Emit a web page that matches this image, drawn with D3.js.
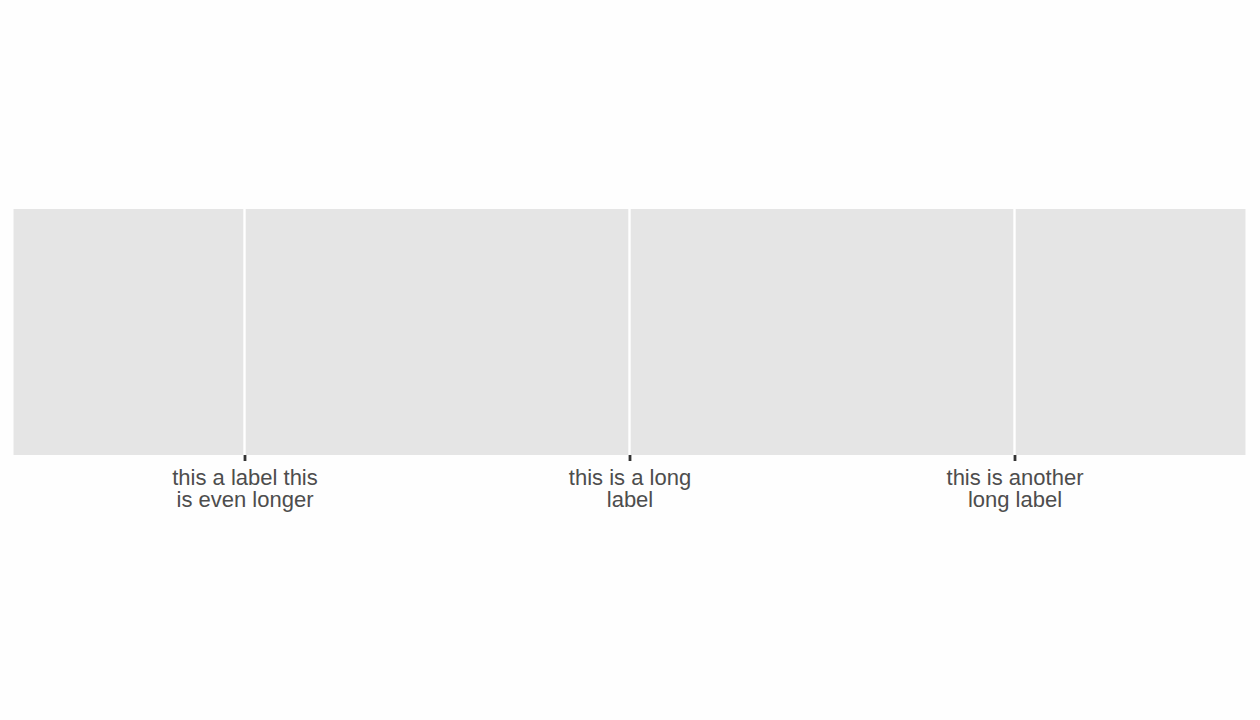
<!DOCTYPE html>
<html><head><meta charset="utf-8">
<script src="https://cdn.jsdelivr.net/npm/d3@7"></script>
<style>html,body{margin:0;padding:0;background:#fff;}svg{display:block;}</style>
</head><body>
<script>
const categories = ["this a label this\nis even longer", "this is a long\nlabel", "this is another\nlong label"];

const W = 1260, H = 720;
const panel = {left: 13.5, right: 1245.5, top: 209, bottom: 455};

const svg = d3.select("body").append("svg").attr("width", W).attr("height", H);
svg.append("rect").attr("width", W).attr("height", H).attr("fill", "#fefefe");

const x = d3.scalePoint().domain(categories).range([panel.left, panel.right]).padding(0.6);

svg.append("rect")
  .attr("x", panel.left).attr("y", panel.top)
  .attr("width", panel.right - panel.left).attr("height", panel.bottom - panel.top)
  .attr("fill", "#e5e5e5");

svg.append("g").selectAll("line").data(categories).join("line")
  .attr("x1", d => x(d)).attr("x2", d => x(d))
  .attr("y1", panel.top).attr("y2", panel.bottom)
  .attr("stroke", "#fff").attr("stroke-width", 2.4);

const axis = d3.axisBottom(x).tickSize(6).tickSizeOuter(0).tickPadding(4);
const g = svg.append("g").attr("transform", `translate(0,${panel.bottom})`).call(axis);
g.select(".domain").remove();
g.selectAll(".tick line").attr("stroke", "#333").attr("stroke-width", 2.8);
g.selectAll(".tick text").each(function(d) {
  const t = d3.select(this);
  t.text(null)
   .attr("fill", "#4d4d4d")
   .attr("font-family", "'Liberation Sans', Arial, sans-serif")
   .attr("font-size", 22)
   .attr("dy", null)
   .attr("y", 0);
  d.split("\n").forEach((line, i) => {
    t.append("tspan").attr("x", 0).attr("y", 29.5 + i * 22).text(line);
  });
});
</script>
</body></html>
